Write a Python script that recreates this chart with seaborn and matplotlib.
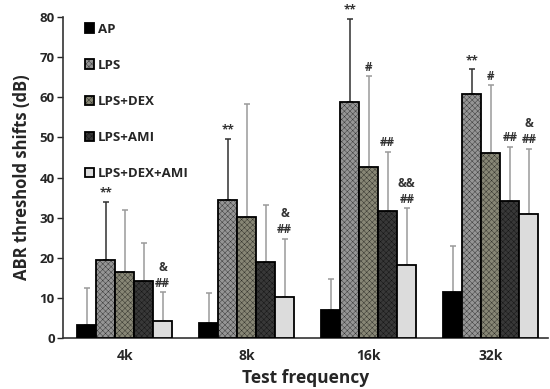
import matplotlib
matplotlib.use("Agg")
import matplotlib.pyplot as plt
import seaborn as sns
import pandas as pd
import numpy as np

frequencies = ["4k", "8k", "16k", "32k"]
groups = ["AP", "LPS", "LPS+DEX", "LPS+AMI", "LPS+DEX+AMI"]
means = {
    "AP":          [3.3, 3.7, 6.9, 11.4],
    "LPS":         [19.5, 34.3, 58.9, 60.8],
    "LPS+DEX":     [16.5, 30.2, 42.6, 46.1],
    "LPS+AMI":     [14.2, 19.0, 31.7, 34.2],
    "LPS+DEX+AMI": [4.2, 10.2, 18.2, 31.0],
}
err_tops = {
    "AP":          [12.4, 11.2, 14.8, 23.0],
    "LPS":         [33.9, 49.6, 79.5, 67.0],
    "LPS+DEX":     [31.8, 58.3, 65.3, 63.0],
    "LPS+AMI":     [23.6, 33.2, 46.4, 47.7],
    "LPS+DEX+AMI": [11.4, 24.8, 32.3, 47.2],
}
marks = {
    "AP":          ["", "", "", ""],
    "LPS":         ["**", "**", "**", "**"],
    "LPS+DEX":     ["", "", "#", "#"],
    "LPS+AMI":     ["", "", "##", "##"],
    "LPS+DEX+AMI": ["&\n##", "&\n##", "&&\n##", "&\n##"],
}

colors = ["#000000", "#959595", "#8a8872", "#383838", "#dcdcdc"]
hatches = [None, "xxxxxx", "xxxxxx", "xxxxxx", None]
err_colors = ["#9a9a9a", "#303030", "#9a9a9a", "#9a9a9a", "#9a9a9a"]

rows = []
for g in groups:
    for f, v in zip(frequencies, means[g]):
        rows.append({"freq": f, "group": g, "value": v})
df = pd.DataFrame(rows)

sns.set_style("white")
plt.rcParams["font.family"] = ["Open Sans", "DejaVu Sans"]
plt.rcParams["hatch.linewidth"] = 0.2

fig = plt.figure(figsize=(5.5, 3.89), dpi=100)
ax = fig.add_axes([0.1145, 0.131, 0.882, 0.825])

sns.barplot(data=df, x="freq", y="value", hue="group", order=frequencies,
            hue_order=groups, palette=colors, width=0.78, errorbar=None,
            edgecolor="black", linewidth=1.3, ax=ax, legend=True, zorder=3)

for gi, (g, container) in enumerate(zip(groups, ax.containers)):
    for fi, patch in enumerate(container.patches):
        if hatches[gi]:
            patch.set_hatch(hatches[gi])
        xc = patch.get_x() + patch.get_width() / 2
        top = patch.get_height()
        et = err_tops[g][fi]
        ax.errorbar([xc], [top], yerr=[[0], [et - top]], fmt="none",
                    ecolor=err_colors[gi], elinewidth=1.1, capsize=2.5,
                    capthick=1.1, zorder=2)
        m = marks[g][fi]
        if m:
            ax.text(xc, et + 0.6, m, ha="center", va="bottom",
                    fontsize=8.5, fontweight="bold", color="#333333",
                    linespacing=1.3)

ax.set_ylim(0, 80)
ax.set_xlim(-0.505, 3.47)
ax.set_yticks(range(0, 81, 10))
ax.tick_params(axis="y", direction="out", length=4, width=1, left=True,
               labelsize=9.5, pad=2)
ax.tick_params(axis="x", length=0, labelsize=10, pad=8)
for lab in ax.get_xticklabels() + ax.get_yticklabels():
    lab.set_fontweight("bold")
ax.set_xlabel("Test frequency", fontsize=12.5, fontweight="bold", labelpad=4)
ax.set_ylabel("ABR threshold shifts (dB)", fontsize=12, fontweight="bold",
              labelpad=6)
for s in ["top", "right"]:
    ax.spines[s].set_visible(False)
for s in ["left", "bottom"]:
    ax.spines[s].set_color("#333333")
    ax.spines[s].set_linewidth(1.2)

leg = ax.legend(loc="upper left", bbox_to_anchor=(0.02, 1.02), frameon=False,
                labelspacing=1.75, handlelength=0.7, handleheight=0.7,
                handletextpad=0.3, prop={"weight": "bold", "size": 9.5})
for gi, h in enumerate(leg.legend_handles):
    if hatches[gi]:
        h.set_hatch(hatches[gi])

fig.savefig("out.png", dpi=100)
